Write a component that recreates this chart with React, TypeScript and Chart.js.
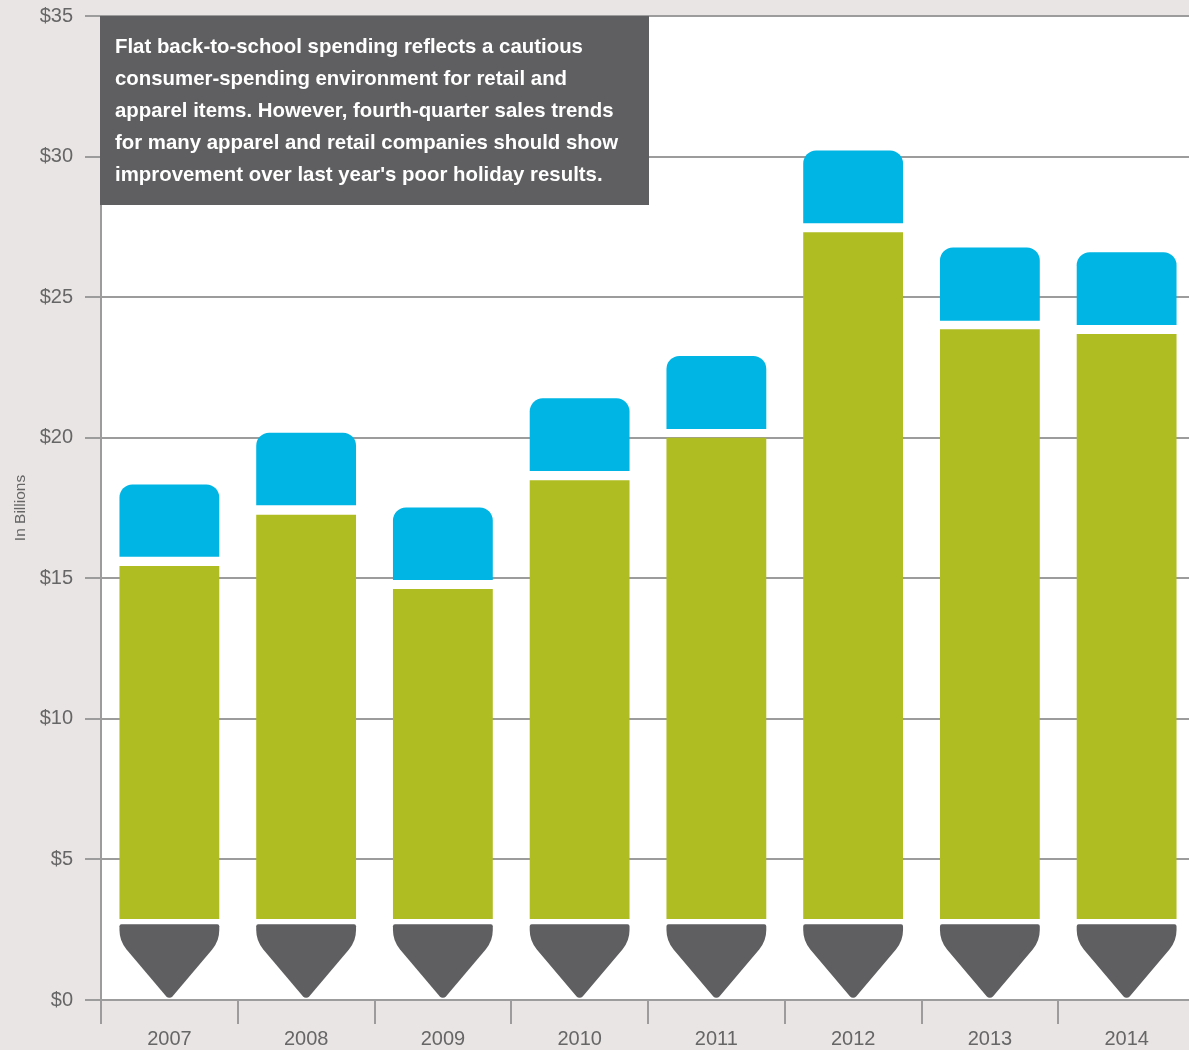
import { useEffect, useRef } from "react";
import { Chart, registerables } from "chart.js";

Chart.register(...registerables);

// Years on the category axis
const years = ["2007", "2008", "2009", "2010", "2011", "2012", "2013", "2014"];

// Pencil parts, in $ billions: graphite tip, green body, blue eraser
const tipTop = [2.69, 2.69, 2.69, 2.69, 2.69, 2.69, 2.69, 2.69];
const bodyBase = [2.88, 2.88, 2.88, 2.88, 2.88, 2.88, 2.88, 2.88];
const bodyTop = [15.44, 17.26, 14.62, 18.49, 20.0, 27.31, 23.86, 23.69];
const eraserBase = [15.77, 17.6, 14.94, 18.82, 20.31, 27.63, 24.16, 24.01];
const eraserTop = [18.34, 20.18, 17.52, 21.4, 22.91, 30.22, 26.77, 26.6];

const yMin = 0;
const yMax = 35;
const yStep = 5;

const noteLines = [
  "Flat back-to-school spending reflects a cautious",
  "consumer-spending environment for retail and",
  "apparel items. However, fourth-quarter sales trends",
  "for many apparel and retail companies should show",
  "improvement over last year's poor holiday results.",
];

const PAGE_BG = "#e9e5e4";
const AXIS_GREY = "#9c9c9c";
const LABEL_GREY = "#666666";
const GRAPHITE = "#5f5f61";
const BODY_GREEN = "#afbd22";
const ERASER_BLUE = "#00b5e3";
const FONT = "'Liberation Sans', Arial, sans-serif";

// Page backdrop and white plotting area
const backdropPlugin = {
  id: "backdrop",
  beforeDraw(chart: any) {
    const { ctx, chartArea: a, width, height } = chart;
    ctx.save();
    ctx.fillStyle = PAGE_BG;
    ctx.fillRect(0, 0, width, height);
    ctx.fillStyle = "#ffffff";
    ctx.fillRect(a.left, a.top, a.right - a.left, a.bottom - a.top);
    ctx.restore();
  },
};

// Draws the sharpened graphite tip over the first (transparent) dataset
const pencilTipPlugin = {
  id: "pencilTip",
  afterDatasetsDraw(chart: any) {
    const meta = chart.getDatasetMeta(0);
    const ctx = chart.ctx;
    ctx.save();
    ctx.fillStyle = GRAPHITE;
    meta.data.forEach((bar: any) => {
      const { x, y, base, width } = bar.getProps(["x", "y", "base", "width"], true);
      const x0 = x - width / 2;
      const x1 = x + width / 2;
      const top = Math.min(y, base);
      const apex = Math.max(y, base) + 1;
      const knee = top + (apex - top) * 0.22;
      ctx.beginPath();
      ctx.moveTo(x, top);
      ctx.arcTo(x1, top, x1, knee, 2);
      ctx.arcTo(x1, knee, x, apex, 30);
      ctx.arcTo(x, apex, x0, knee, 4);
      ctx.arcTo(x0, knee, x0, top, 30);
      ctx.arcTo(x0, top, x, top, 2);
      ctx.closePath();
      ctx.fill();
    });
    ctx.restore();
  },
};

// Commentary panel in the upper left of the plot
const notePlugin = {
  id: "note",
  afterDatasetsDraw(chart: any) {
    const { ctx, chartArea: a } = chart;
    ctx.save();
    ctx.fillStyle = GRAPHITE;
    ctx.fillRect(a.left - 1, a.top, 549, 189);
    ctx.fillStyle = "#ffffff";
    ctx.font = `bold 20.4px ${FONT}`;
    ctx.textBaseline = "alphabetic";
    ctx.textAlign = "left";
    noteLines.forEach((line, i) => {
      ctx.fillText(line, a.left + 14, a.top + 37 + i * 32);
    });
    ctx.restore();
  },
};

export default function App() {
  const canvasRef = useRef<HTMLCanvasElement | null>(null);

  useEffect(() => {
    document.body.style.margin = "0";
    document.body.style.background = PAGE_BG;
    const canvas = canvasRef.current;
    if (!canvas) return;

    const barOpts = {
      grouped: false,
      barPercentage: 0.73,
      categoryPercentage: 1,
      borderWidth: 0,
    };

    const chart = new Chart(canvas, {
      type: "bar",
      data: {
        labels: years,
        datasets: [
          {
            label: "Tip",
            data: years.map((_, i) => [0, tipTop[i]]),
            backgroundColor: "rgba(0,0,0,0)",
            ...barOpts,
          },
          {
            label: "Body",
            data: years.map((_, i) => [bodyBase[i], bodyTop[i]]),
            backgroundColor: BODY_GREEN,
            ...barOpts,
          },
          {
            label: "Eraser",
            data: years.map((_, i) => [eraserBase[i], eraserTop[i]]),
            backgroundColor: ERASER_BLUE,
            borderSkipped: false,
            borderRadius: { topLeft: 13, topRight: 13, bottomLeft: 0, bottomRight: 0 },
            ...barOpts,
          },
        ] as any,
      },
      options: {
        responsive: false,
        animation: false,
        layout: { padding: { top: 16, left: 0, right: 0, bottom: 0 } },
        plugins: {
          legend: { display: false },
          tooltip: { enabled: false },
        },
        scales: {
          x: {
            offset: true,
            grid: {
              offset: true,
              drawOnChartArea: false,
              drawTicks: true,
              tickLength: 24,
              color: AXIS_GREY,
              lineWidth: 2,
            },
            border: { display: true, color: AXIS_GREY, width: 2 },
            ticks: {
              color: LABEL_GREY,
              font: { family: FONT, size: 20 },
              padding: 3,
              maxRotation: 0,
            },
            afterFit(scale: any) {
              scale.height = 50;
              scale.paddingLeft = 0;
              scale.paddingRight = 0;
            },
          },
          y: {
            min: yMin,
            max: yMax,
            grid: {
              color: AXIS_GREY,
              lineWidth: 2,
              tickLength: 16,
            },
            border: { display: true, color: AXIS_GREY, width: 2 },
            ticks: {
              stepSize: yStep,
              color: LABEL_GREY,
              font: { family: FONT, size: 20 },
              padding: 12,
              callback: (v: any) => `$${v}`,
            },
            title: {
              display: true,
              text: "In Billions",
              color: LABEL_GREY,
              font: { family: FONT, size: 15.5 },
              padding: { top: 11, bottom: 0 },
            },
            afterFit(scale: any) {
              scale.width = 101;
              scale.paddingTop = 0;
              scale.paddingBottom = 0;
            },
          },
        },
      } as any,
      plugins: [backdropPlugin, pencilTipPlugin, notePlugin],
    });

    return () => chart.destroy();
  }, []);

  return (
    <div style={{ width: 1189, height: 1050, overflow: "hidden" }}>
      <canvas ref={canvasRef} width={1195} height={1050} style={{ display: "block" }} />
    </div>
  );
}
